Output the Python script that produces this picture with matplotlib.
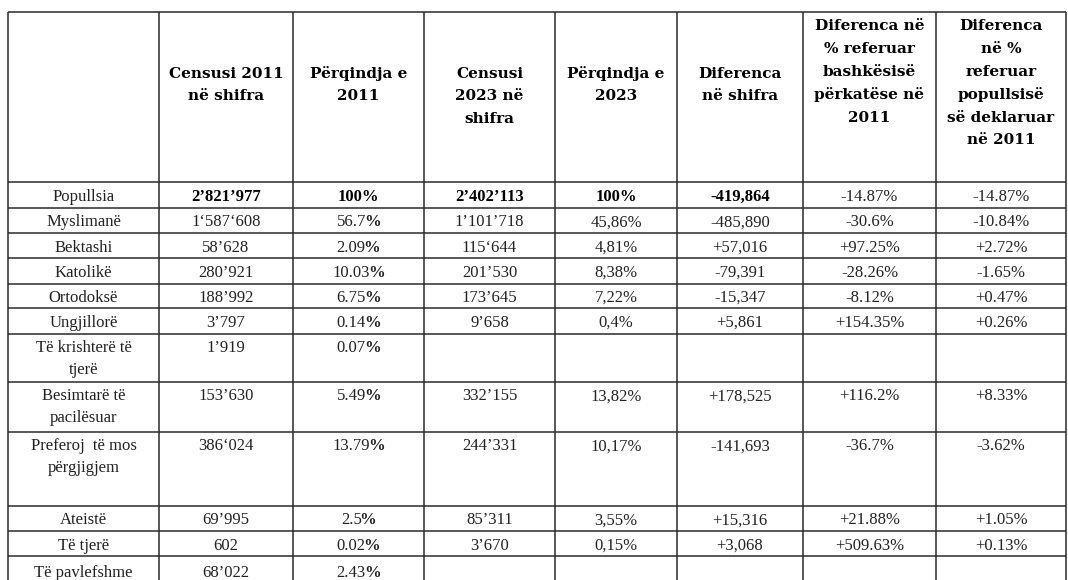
import matplotlib.pyplot as plt

plt.rcParams['font.family'] = ['Liberation Serif', 'DejaVu Serif']

# Table content
headers = [
    "",
    "Censusi 2011\nnë shifra",
    "Përqindja e\n2011",
    "Censusi\n2023 në\nshifra",
    "Përqindja e\n2023",
    "Diferenca\nnë shifra",
    "Diferenca në\n% referuar\nbashkësisë\npërkatëse në\n2011",
    "Diferenca\nnë %\nreferuar\npopullsisë\nsë deklaruar\nnë 2011",
]
categories = [
    "Popullsia", "Myslimanë", "Bektashi", "Katolikë", "Ortodoksë", "Ungjillorë",
    "Të krishterë të\ntjerë", "Besimtarë të\npacilësuar", "Preferoj  të mos\npërgjigjem",
    "Ateistë", "Të tjerë", "Të pavlefshme",
]
census_2011 = ["2’821’977", "1‘587‘608", "58’628", "280’921", "188’992", "3’797",
               "1’919", "153’630", "386‘024", "69’995", "602", "68’022"]
pct_2011 = ["100", "56.7", "2.09", "10.03", "6.75", "0.14",
            "0.07", "5.49", "13.79", "2.5", "0.02", "2.43"]
census_2023 = ["2’402’113", "1’101’718", "115‘644", "201’530", "173’645", "9’658",
               "", "332’155", "244’331", "85’311", "3’670", ""]
pct_2023 = ["100%", "45,86%", "4,81%", "8,38%", "7,22%", "0,4%",
            "", "13,82%", "10,17%", "3,55%", "0,15%", ""]
diff_abs = ["-419,864", "-485,890", "+57,016", "-79,391", "-15,347", "+5,861",
            "", "+178,525", "-141,693", "+15,316", "+3,068", ""]
diff_group = ["-14.87%", "-30.6%", "+97.25%", "-28.26%", "-8.12%", "+154.35%",
              "", "+116.2%", "-36.7%", "+21.88%", "+509.63%", ""]
diff_pop = ["-14.87%", "-10.84%", "+2.72%", "-1.65%", "+0.47%", "+0.26%",
            "", "+8.33%", "-3.62%", "+1.05%", "+0.13%", ""]

# Grid layout (pixels)
col_edges = [8, 159, 293, 424, 555, 677, 803, 936, 1066]
row_edges = [12, 182, 208, 233, 258, 284, 308, 334, 382, 432, 506, 531, 556, 586]
header_first_line = [0, 72, 72, 72, 72, 72, 25, 25]
header_step = 22.8
body_step = 21.5

fig = plt.figure(figsize=(10.68, 5.8), dpi=100)
ax = fig.add_axes([0, 0, 1, 1])
ax.set_xlim(0, 1068)
ax.set_ylim(580, 0)
ax.axis('off')

ax.hlines(row_edges, col_edges[0], col_edges[-1], color='#2a2a2a', lw=1.1)
ax.vlines(col_edges, row_edges[0], row_edges[-1], color='#2a2a2a', lw=1.1)

col_center = [(a + b) / 2 for a, b in zip(col_edges[:-1], col_edges[1:])]

# headers
for c, h in enumerate(headers):
    for i, line in enumerate(h.split("\n")):
        if line:
            ax.text(col_center[c], header_first_line[c] + i * header_step, line,
                    ha='center', va='center_baseline', fontsize=11,
                    fontweight='bold', color='black', family='DejaVu Serif')

columns = [categories, census_2011, pct_2011, census_2023, pct_2023,
           diff_abs, diff_group, diff_pop]

fig.canvas.draw()
renderer = fig.canvas.get_renderer()

for r in range(len(categories)):
    top, bottom = row_edges[r + 1], row_edges[r + 2]
    multi = bottom - top > 30
    y0 = top + 12.5 if multi else (top + bottom) / 2
    for c, col in enumerate(columns):
        val = col[r]
        if not val:
            continue
        bold = (r == 0 and 1 <= c <= 5)
        if c == 2:
            if bold:
                ax.text(col_center[c], y0, val + "%", ha='center',
                        va='center_baseline', fontsize=12, fontweight='bold',
                        color='black')
                continue
            # number regular, percent sign bold
            t1 = ax.text(0, y0, val, ha='left', va='center_baseline',
                         fontsize=12, color='#222222')
            t2 = ax.text(0, y0, "%", ha='left', va='center_baseline',
                         fontsize=12, fontweight='bold', color='#222222')
            w1 = t1.get_window_extent(renderer).width - 2
            w2 = t2.get_window_extent(renderer).width
            x_start = col_center[c] - (w1 + w2) / 2
            t1.set_x(x_start)
            t2.set_x(x_start + w1)
            continue
        for i, line in enumerate(val.split("\n")):
            ax.text(col_center[c], y0 + i * body_step, line, ha='center',
                    va='center_baseline', fontsize=12,
                    fontweight='bold' if bold else 'normal',
                    color='black' if bold else '#222222')

fig.savefig("out.png", dpi=100, facecolor='white')
